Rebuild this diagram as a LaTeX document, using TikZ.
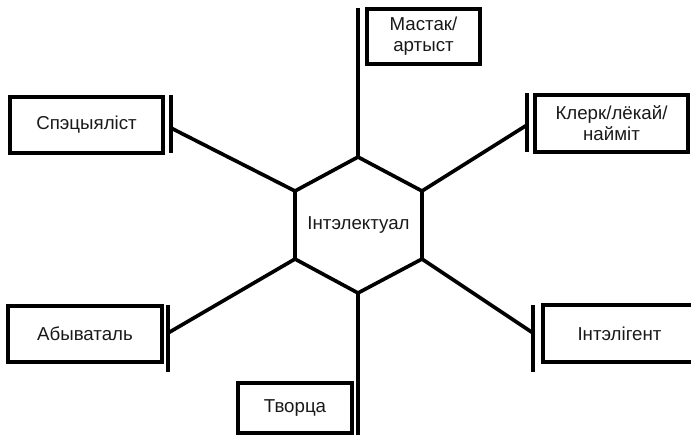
\documentclass[tikz,border=0pt]{standalone}
\usepackage{fontspec}
\setmainfont{Liberation Sans}
\usepackage{tikz}
\usetikzlibrary{calc}

\tikzset{
    role/.style={draw, line width=2.6pt, inner sep=0pt, align=center,
        text=black!90, font=\fontsize{13.3}{15}\selectfont},
    link/.style={line width=2.6pt}
}

\begin{document}
\begin{tikzpicture}[x=0.025cm, y=-0.025cm]
    \useasboundingbox (0,0) rectangle (691,435);

    % hexagon corners
    \coordinate (H1) at (358, 157);
    \coordinate (H2) at (422, 191);
    \coordinate (H3) at (422, 259);
    \coordinate (H4) at (358, 293);
    \coordinate (H5) at (295, 259);
    \coordinate (H6) at (295, 191);

    % bars in front of the boxes
    \coordinate (Ma) at (358, 8);   \coordinate (Mb) at (358, 64);
    \coordinate (Ka) at (527, 93);  \coordinate (Kb) at (527, 152);
    \coordinate (Sa) at (171, 95);  \coordinate (Sb) at (171, 153);
    \coordinate (Aa) at (168, 305); \coordinate (Ab) at (168, 372);
    \coordinate (Ia) at (533, 305); \coordinate (Ib) at (533, 372);
    \coordinate (Ta) at (358, 383); \coordinate (Tb) at (358, 435);

    % where the links meet the bars
    \coordinate (Km) at (527, 125);
    \coordinate (Sm) at (171, 128);
    \coordinate (Am) at (168, 333);
    \coordinate (Im) at (533, 333);

    \draw[link] (H1) -- (H2) -- (H3) -- (H4) -- (H5) -- (H6) -- cycle;
    \node[text=black!90, font=\fontsize{13.3}{15}\selectfont] (centre) at (358.5, 225) {Інтэлектуал};

    \foreach \b in {M, K, S, A, I, T}
        \draw[link] (\b a) -- (\b b);

    \node[role, minimum width=113*0.025cm, minimum height=55*0.025cm] (master) at (423.5, 36.5) {Мастак/\\артыст};
    \node[role, minimum width=153*0.025cm, minimum height=57*0.025cm] (clerk) at (611.5, 123.5) {Клерк/лёкай/\\найміт};
    \node[role, minimum width=153*0.025cm, minimum height=56*0.025cm] (spec) at (86.5, 125) {Спэцыяліст};
    \node[role, minimum width=154*0.025cm, minimum height=56*0.025cm] (abyv) at (85, 334) {Абываталь};
    \node[role, minimum width=153*0.025cm, minimum height=57*0.025cm] (intel) at (619.5, 333.5) {Інтэлігент};
    \node[role, minimum width=114*0.025cm, minimum height=50*0.025cm] (creator) at (295, 408) {Творца};

    \draw[link] (H1) -- (Mb);
    \draw[link] (H2) -- (Km);
    \draw[link] (H6) -- (Sm);
    \draw[link] (H5) -- (Am);
    \draw[link] (H3) -- (Im);
    \draw[link] (H4) -- (Ta);
\end{tikzpicture}
\end{document}
